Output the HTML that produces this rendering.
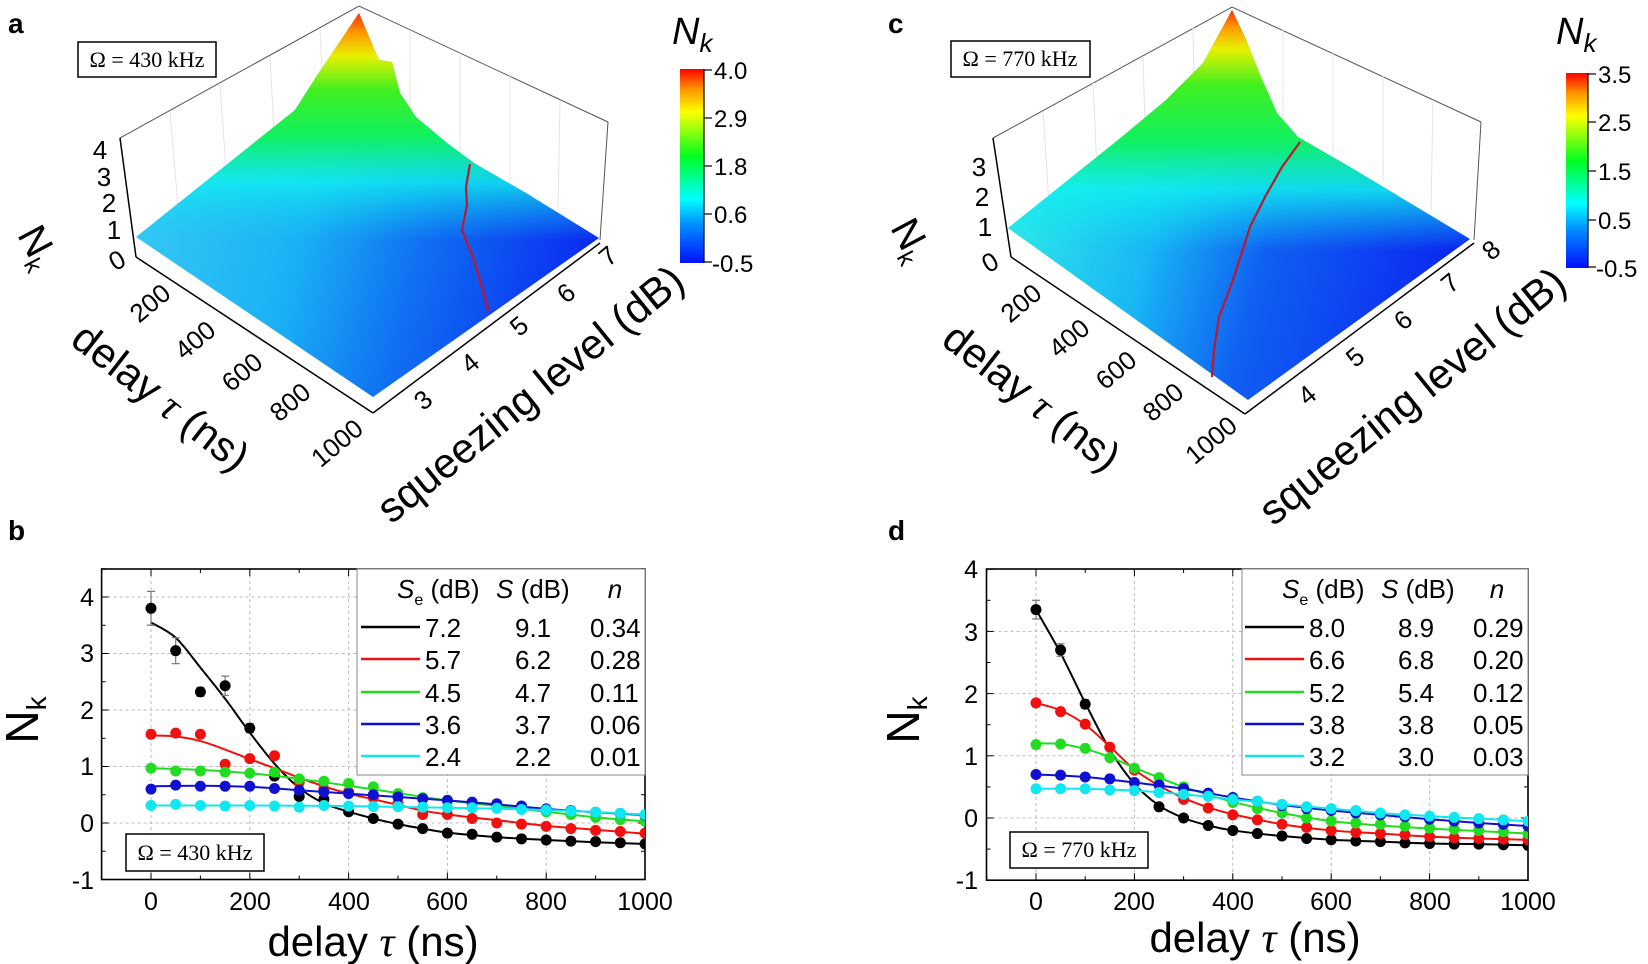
<!DOCTYPE html>
<html><head><meta charset="utf-8"><style>
html,body{margin:0;padding:0;background:#fff;}
svg{display:block;font-family:"Liberation Sans",Arial,sans-serif;}
.ser{font-family:"Liberation Serif","Times New Roman",serif;}
</style></head><body>
<svg id="s" width="1648" height="964" viewBox="0 0 1648 964" xmlns="http://www.w3.org/2000/svg">
<defs>
<linearGradient id="cb" x1="0" y1="1" x2="0" y2="0">
<stop offset="0" stop-color="#0010ff"/><stop offset="0.2" stop-color="#0090ff"/><stop offset="0.33" stop-color="#00ffff"/><stop offset="0.55" stop-color="#00ff20"/><stop offset="0.78" stop-color="#ffff00"/><stop offset="0.9" stop-color="#ff9000"/><stop offset="1" stop-color="#ff0000"/>
</linearGradient>
<linearGradient id="baseA" gradientUnits="userSpaceOnUse" x1="150" y1="180" x2="600" y2="300">
<stop offset="0" stop-color="#35c8f5"/><stop offset="0.35" stop-color="#1ab0f5"/><stop offset="0.6" stop-color="#1070f2"/><stop offset="1" stop-color="#0a22f0"/>
</linearGradient>
<linearGradient id="topA" gradientUnits="userSpaceOnUse" x1="0" y1="10" x2="0" y2="240">
<stop offset="0" stop-color="#ff2000"/><stop offset="0.1" stop-color="#ff9a00"/><stop offset="0.2" stop-color="#e8f000"/><stop offset="0.35" stop-color="#40f020"/><stop offset="0.55" stop-color="#10f060"/><stop offset="0.75" stop-color="#10f0f0" stop-opacity="0.8"/><stop offset="1" stop-color="#10d0f0" stop-opacity="0"/>
</linearGradient>
<linearGradient id="baseC" gradientUnits="userSpaceOnUse" x1="1020" y1="180" x2="1470" y2="300">
<stop offset="0" stop-color="#30e8e8"/><stop offset="0.3" stop-color="#18b8f5"/><stop offset="0.55" stop-color="#1060f2"/><stop offset="1" stop-color="#0a20f0"/>
</linearGradient>
<linearGradient id="topC" gradientUnits="userSpaceOnUse" x1="0" y1="8" x2="0" y2="250">
<stop offset="0" stop-color="#ff2000"/><stop offset="0.08" stop-color="#ff9a00"/><stop offset="0.17" stop-color="#e8f000"/><stop offset="0.32" stop-color="#40f020"/><stop offset="0.55" stop-color="#10f060"/><stop offset="0.75" stop-color="#10f0f0" stop-opacity="0.85"/><stop offset="1" stop-color="#10e0f0" stop-opacity="0"/>
</linearGradient>
<clipPath id="cbx"><rect x="101.6" y="569" width="543.4" height="311"/></clipPath>
<clipPath id="cdx"><rect x="986.5" y="569" width="541.5" height="311"/></clipPath>
</defs>

<!-- ===== Panel a ===== -->
<text x="8" y="33" font-size="28" font-weight="bold">a</text>
<g stroke="#555" stroke-width="1" fill="none">
<polyline points="120,138 359,6 608,122"/>
<line x1="608" y1="122" x2="600" y2="240"/>
</g>
<g stroke="#e4e4e4" stroke-width="1" fill="none">
<line x1="170" y1="111" x2="180" y2="230"/><line x1="220" y1="83" x2="228" y2="200"/><line x1="270" y1="56" x2="276" y2="170"/><line x1="320" y1="28" x2="325" y2="140"/>
<line x1="410" y1="30" x2="410" y2="140"/><line x1="460" y1="53" x2="460" y2="160"/><line x1="510" y1="76" x2="510" y2="180"/><line x1="560" y1="100" x2="558" y2="210"/>
</g>
<polygon fill="url(#baseA)" points="136,237 295,110 316,77 359,13 379,60 392,62 400,93 416,117 447,143 474,163 526,193 599,238 373,397"/>
<polygon fill="url(#topA)" points="136,237 295,110 316,77 359,13 379,60 392,62 400,93 416,117 447,143 474,163 526,193 599,238 373,397"/>
<polyline fill="none" stroke="#c0182a" stroke-width="2.2" points="470,164 466,187 467,205 462,230 474,260 489,312"/>
<g stroke="#000" stroke-width="1.5" fill="none">
<line x1="120" y1="138" x2="136" y2="257"/>
<line x1="136" y1="257" x2="373" y2="413"/>
<line x1="373" y1="413" x2="600" y2="243"/>
</g>
<g font-size="26" text-anchor="middle">
<text x="100" y="159">4</text><text x="104" y="186">3</text><text x="109" y="212">2</text><text x="114" y="239">1</text><text x="118" y="269" transform="rotate(-30 118 262)">0</text>
<text transform="translate(150,303) rotate(-40)" dy="9">200</text>
<text transform="translate(195,340) rotate(-40)" dy="9">400</text>
<text transform="translate(242,372) rotate(-40)" dy="9">600</text>
<text transform="translate(290,402) rotate(-40)" dy="9">800</text>
<text transform="translate(337,443) rotate(-40)" dy="9">1000</text>
<text transform="translate(423,400) rotate(-40)" dy="9">3</text>
<text transform="translate(470,363) rotate(-40)" dy="9">4</text>
<text transform="translate(519,326) rotate(-40)" dy="9">5</text>
<text transform="translate(566,293) rotate(-40)" dy="9">6</text>
<text transform="translate(608,256) rotate(-40)" dy="9">7</text>
</g>
<text transform="translate(160,398) rotate(38)" font-size="42" text-anchor="middle" dy="13">delay <tspan class="ser" font-style="italic">τ</tspan> (ns)</text>
<text transform="translate(531,395) rotate(-39)" font-size="42" text-anchor="middle" dy="13">squeezing level (dB)</text>
<text transform="translate(37,247) rotate(62)" font-size="40" text-anchor="middle" dy="12">N<tspan font-size="24" dy="8">k</tspan></text>
<rect x="78" y="42" width="138" height="35" fill="#fff" stroke="#000" stroke-width="1.5"/>
<text class="ser" x="147" y="67" font-size="22" text-anchor="middle">Ω = 430 kHz</text>
<rect x="680" y="69" width="24" height="194" fill="url(#cb)"/>
<g stroke="#000" stroke-width="1.2"><line x1="704" y1="70" x2="712" y2="70"/><line x1="704" y1="118" x2="712" y2="118"/><line x1="704" y1="166" x2="712" y2="166"/><line x1="704" y1="214" x2="712" y2="214"/><line x1="704" y1="262" x2="712" y2="262"/><line x1="704" y1="69" x2="704" y2="263"/></g>
<g font-size="24"><text x="714" y="79">4.0</text><text x="714" y="127">2.9</text><text x="714" y="175">1.8</text><text x="714" y="223">0.6</text><text x="712" y="272">-0.5</text></g>
<text x="672" y="44" font-size="38" font-style="italic">N<tspan font-size="26" dy="8">k</tspan></text>

<!-- ===== Panel c ===== -->
<text x="888" y="33" font-size="28" font-weight="bold">c</text>
<g stroke="#555" stroke-width="1" fill="none">
<polyline points="993,138 1232,7 1481,122"/>
<line x1="1481" y1="122" x2="1474" y2="240"/>
</g>
<g stroke="#e4e4e4" stroke-width="1" fill="none">
<line x1="1043" y1="111" x2="1050" y2="220"/><line x1="1093" y1="83" x2="1098" y2="190"/><line x1="1143" y1="56" x2="1146" y2="160"/><line x1="1193" y1="28" x2="1195" y2="130"/>
<line x1="1283" y1="30" x2="1283" y2="140"/><line x1="1333" y1="53" x2="1333" y2="160"/><line x1="1383" y1="76" x2="1383" y2="180"/><line x1="1433" y1="100" x2="1431" y2="210"/>
</g>
<polygon fill="url(#baseC)" points="1008,228 1118,140 1166,100 1203,63 1232,10 1245,37 1261,77 1277,113 1298,137 1350,167 1470,239 1248,400"/>
<polygon fill="url(#topC)" points="1008,228 1118,140 1166,100 1203,63 1232,10 1245,37 1261,77 1277,113 1298,137 1350,167 1470,239 1248,400"/>
<polyline fill="none" stroke="#c0182a" stroke-width="2.2" points="1300,142 1282,167 1265,197 1250,227 1233,280 1219,317 1214,350 1212,377"/>
<g stroke="#000" stroke-width="1.5" fill="none">
<line x1="993" y1="138" x2="1011" y2="257"/>
<line x1="1011" y1="257" x2="1245" y2="414"/>
<line x1="1245" y1="414" x2="1474" y2="243"/>
</g>
<g font-size="26" text-anchor="middle">
<text x="979" y="176">3</text><text x="982" y="206">2</text><text x="985" y="236">1</text><text x="991" y="271" transform="rotate(-30 991 264)">0</text>
<text transform="translate(1021,303) rotate(-40)" dy="9">200</text>
<text transform="translate(1069,338) rotate(-40)" dy="9">400</text>
<text transform="translate(1116,370) rotate(-40)" dy="9">600</text>
<text transform="translate(1163,402) rotate(-40)" dy="9">800</text>
<text transform="translate(1211,440) rotate(-40)" dy="9">1000</text>
<text transform="translate(1307,395) rotate(-40)" dy="9">4</text>
<text transform="translate(1355,357) rotate(-40)" dy="9">5</text>
<text transform="translate(1403,320) rotate(-40)" dy="9">6</text>
<text transform="translate(1450,283) rotate(-40)" dy="9">7</text>
<text transform="translate(1491,250) rotate(-40)" dy="9">8</text>
</g>
<text transform="translate(1031,398) rotate(38)" font-size="42" text-anchor="middle" dy="13">delay <tspan class="ser" font-style="italic">τ</tspan> (ns)</text>
<text transform="translate(1413,397) rotate(-39)" font-size="42" text-anchor="middle" dy="13">squeezing level (dB)</text>
<text transform="translate(910,240) rotate(62)" font-size="40" text-anchor="middle" dy="12">N<tspan font-size="24" dy="8">k</tspan></text>
<rect x="951" y="41" width="139" height="36" fill="#fff" stroke="#000" stroke-width="1.5"/>
<text class="ser" x="1020" y="66" font-size="22" text-anchor="middle">Ω = 770 kHz</text>
<rect x="1566" y="73" width="22" height="195" fill="url(#cb)"/>
<g stroke="#000" stroke-width="1.2"><line x1="1588" y1="74" x2="1596" y2="74"/><line x1="1588" y1="122" x2="1596" y2="122"/><line x1="1588" y1="171" x2="1596" y2="171"/><line x1="1588" y1="220" x2="1596" y2="220"/><line x1="1588" y1="267" x2="1596" y2="267"/><line x1="1588" y1="73" x2="1588" y2="268"/></g>
<g font-size="24"><text x="1598" y="83">3.5</text><text x="1598" y="131">2.5</text><text x="1598" y="180">1.5</text><text x="1598" y="229">0.5</text><text x="1596" y="277">-0.5</text></g>
<text x="1556" y="44" font-size="38" font-style="italic">N<tspan font-size="26" dy="8">k</tspan></text>

<!-- ===== Panel b ===== -->
<text x="8" y="540" font-size="28" font-weight="bold">b</text>
<g id="gb"></g>
<g font-size="25" text-anchor="end">
<text x="94" y="606">4</text><text x="94" y="662">3</text><text x="94" y="719">2</text><text x="94" y="775">1</text><text x="94" y="832">0</text><text x="94" y="889">-1</text>
</g>
<g font-size="25" text-anchor="middle">
<text x="151" y="910">0</text><text x="250" y="910">200</text><text x="349" y="910">400</text><text x="447" y="910">600</text><text x="546" y="910">800</text><text x="645" y="910">1000</text>
</g>
<text x="373" y="956" font-size="42" text-anchor="middle">delay <tspan class="ser" font-style="italic">τ</tspan> (ns)</text>
<text transform="translate(24,720) rotate(-90)" font-size="46" text-anchor="middle" dy="14">N<tspan font-size="28" dy="8">k</tspan></text>
<rect x="357" y="569" width="288" height="206" fill="#fff" stroke="#888" stroke-width="1"/>
<g font-size="26">
<text x="397" y="598"><tspan font-style="italic">S</tspan><tspan font-size="16" dy="7">e</tspan><tspan dy="-7"> (dB)</tspan></text>
<text x="496" y="598"><tspan font-style="italic">S</tspan> (dB)</text>
<text x="615" y="598" font-style="italic" text-anchor="middle">n</text>
<text x="425" y="637">7.2</text><text x="515" y="637">9.1</text><text x="590" y="637">0.34</text>
<text x="425" y="669">5.7</text><text x="515" y="669">6.2</text><text x="590" y="669">0.28</text>
<text x="425" y="702">4.5</text><text x="515" y="702">4.7</text><text x="590" y="702">0.11</text>
<text x="425" y="734">3.6</text><text x="515" y="734">3.7</text><text x="590" y="734">0.06</text>
<text x="425" y="766">2.4</text><text x="515" y="766">2.2</text><text x="590" y="766">0.01</text>
</g>
<g stroke-width="2.5"><line x1="361" y1="627" x2="420" y2="627" stroke="#000"/><line x1="361" y1="659" x2="420" y2="659" stroke="#f01010"/><line x1="361" y1="692" x2="420" y2="692" stroke="#20dd20"/><line x1="361" y1="724" x2="420" y2="724" stroke="#1010d0"/><line x1="361" y1="756" x2="420" y2="756" stroke="#10e8f0"/></g>
<rect x="126" y="834" width="138" height="37" fill="#fff" stroke="#000" stroke-width="1.5"/>
<text class="ser" x="195" y="860" font-size="22" text-anchor="middle">Ω = 430 kHz</text>

<!-- ===== Panel d ===== -->
<text x="888" y="540" font-size="28" font-weight="bold">d</text>
<g id="gd"></g>
<g font-size="25" text-anchor="end">
<text x="978" y="578">4</text><text x="978" y="641">3</text><text x="978" y="703">2</text><text x="978" y="765">1</text><text x="978" y="827">0</text><text x="978" y="889">-1</text>
</g>
<g font-size="25" text-anchor="middle">
<text x="1036" y="910">0</text><text x="1134" y="910">200</text><text x="1233" y="910">400</text><text x="1331" y="910">600</text><text x="1430" y="910">800</text><text x="1528" y="910">1000</text>
</g>
<text x="1255" y="952" font-size="42" text-anchor="middle">delay <tspan class="ser" font-style="italic">τ</tspan> (ns)</text>
<text transform="translate(905,720) rotate(-90)" font-size="46" text-anchor="middle" dy="14">N<tspan font-size="28" dy="8">k</tspan></text>
<rect x="1242" y="569" width="286" height="206" fill="#fff" stroke="#888" stroke-width="1"/>
<g font-size="26">
<text x="1282" y="598"><tspan font-style="italic">S</tspan><tspan font-size="16" dy="7">e</tspan><tspan dy="-7"> (dB)</tspan></text>
<text x="1381" y="598"><tspan font-style="italic">S</tspan> (dB)</text>
<text x="1497" y="598" font-style="italic" text-anchor="middle">n</text>
<text x="1309" y="637">8.0</text><text x="1398" y="637">8.9</text><text x="1473" y="637">0.29</text>
<text x="1309" y="669">6.6</text><text x="1398" y="669">6.8</text><text x="1473" y="669">0.20</text>
<text x="1309" y="702">5.2</text><text x="1398" y="702">5.4</text><text x="1473" y="702">0.12</text>
<text x="1309" y="734">3.8</text><text x="1398" y="734">3.8</text><text x="1473" y="734">0.05</text>
<text x="1309" y="766">3.2</text><text x="1398" y="766">3.0</text><text x="1473" y="766">0.03</text>
</g>
<g stroke-width="2.5"><line x1="1245" y1="627" x2="1304" y2="627" stroke="#000"/><line x1="1245" y1="659" x2="1304" y2="659" stroke="#f01010"/><line x1="1245" y1="692" x2="1304" y2="692" stroke="#20dd20"/><line x1="1245" y1="724" x2="1304" y2="724" stroke="#1010d0"/><line x1="1245" y1="756" x2="1304" y2="756" stroke="#10e8f0"/></g>
<rect x="1010" y="832" width="138" height="36" fill="#fff" stroke="#000" stroke-width="1.5"/>
<text class="ser" x="1079" y="857" font-size="22" text-anchor="middle">Ω = 770 kHz</text>
</svg>
<script>
(function(){
var NS="http://www.w3.org/2000/svg";
function el(p,t,a){var e=document.createElementNS(NS,t);for(var k in a)e.setAttribute(k,a[k]);p.appendChild(e);return e;}
var cols=["#000","#f01010","#20dd20","#1010d0","#10e8f0"];
function smooth(pts){var d="M"+pts[0][0]+","+pts[0][1];for(var i=0;i<pts.length-1;i++){var p0=pts[i-1]||pts[i],p1=pts[i],p2=pts[i+1],p3=pts[i+2]||p2;var c1x=p1[0]+(p2[0]-p0[0])/6,c1y=p1[1]+(p2[1]-p0[1])/6,c2x=p2[0]-(p3[0]-p1[0])/6,c2y=p2[1]-(p3[1]-p1[1])/6;d+=" C"+c1x+","+c1y+" "+c2x+","+c2y+" "+p2[0]+","+p2[1];}return d;}
function plot(g,o){
 var X=function(t){return o.x0+t*o.sx;},Y=function(v){return o.y0-v*o.sy;};
 var L=o.left,R=X(1000),T=o.top,B=Y(-1);
 for(var t=0;t<=1000;t+=200)el(g,"line",{x1:X(t),y1:T,x2:X(t),y2:B,stroke:"#bbb","stroke-dasharray":"3,3","stroke-width":1});
 for(var v=0;v<=4;v++)el(g,"line",{x1:L,y1:Y(v),x2:R,y2:Y(v),stroke:"#bbb","stroke-dasharray":"3,3","stroke-width":1});
 for(var t=-100;t<=1000;t+=100){var len=(t%200==0)?7:4;el(g,"line",{x1:X(t),y1:B,x2:X(t),y2:B-len,stroke:"#000"});el(g,"line",{x1:X(t),y1:T,x2:X(t),y2:T+len,stroke:"#000"});}
 for(var v=-1;v<=4.5;v+=0.5){var len=(v%1==0)?7:4;if(Y(v)<T-1)continue;el(g,"line",{x1:L,y1:Y(v),x2:L+len,y2:Y(v),stroke:"#000"});el(g,"line",{x1:R,y1:Y(v),x2:R-len,y2:Y(v),stroke:"#000"});}
 el(g,"rect",{x:L,y:T,width:R-L,height:B-T,fill:"none",stroke:"#000","stroke-width":1.6});
 var sg=el(g,"g",{"clip-path":o.clip});
 for(var s=0;s<5;s++){
  var ln=o.lines[s].map(function(p){return [X(p[0]),Y(p[1])];});
  el(sg,"path",{d:smooth(ln),fill:"none",stroke:cols[s],"stroke-width":2});
  var pts=o.pts[s];
  for(var i=0;i<pts.length;i++){var t=i*50,v=pts[i];if(v===null)continue;
   if(s==0&&o.err[i]){var e=o.err[i];el(sg,"line",{x1:X(t),y1:Y(v+e),x2:X(t),y2:Y(v-e),stroke:"#777","stroke-width":1.2});el(sg,"line",{x1:X(t)-4,y1:Y(v+e),x2:X(t)+4,y2:Y(v+e),stroke:"#777","stroke-width":1.2});el(sg,"line",{x1:X(t)-4,y1:Y(v-e),x2:X(t)+4,y2:Y(v-e),stroke:"#777","stroke-width":1.2});}
   el(sg,"circle",{cx:X(t),cy:Y(v),r:5.5,fill:cols[s]});}
 }
}
plot(document.getElementById("gb"),{x0:151,sx:0.494,y0:823,sy:56.5,left:101.6,top:569,clip:"url(#cbx)",
 err:{0:0.3,1:0.23,2:0.08,3:0.17,4:0.08},
 pts:[[3.8,3.05,2.32,2.43,1.68,0.83,0.47,0.42,0.2,0.08,-0.02,-0.1,-0.18,-0.2,-0.25,-0.28,-0.3,-0.32,-0.33,-0.35,-0.37],
 [1.57,1.59,1.57,1.04,1.14,1.19,0.72,0.6,0.55,0.45,0.35,0.15,0.15,0.08,0.0,-0.02,-0.06,-0.1,-0.13,-0.15,-0.18],
 [0.97,0.92,0.92,0.9,0.88,0.9,0.78,0.74,0.7,0.64,0.52,0.45,0.4,0.35,0.3,0.25,0.2,0.15,0.1,0.06,0.03],
 [0.6,0.67,0.65,0.65,0.65,0.61,0.58,0.55,0.52,0.5,0.46,0.43,0.4,0.37,0.34,0.3,0.25,0.22,0.19,0.17,0.14],
 [0.31,0.33,0.31,0.3,0.31,0.3,0.28,0.31,0.3,0.29,0.29,0.28,0.27,0.27,0.26,0.24,0.23,0.21,0.19,0.17,0.15]],
 lines:[[[0,3.55],[50,3.28],[100,2.75],[150,2.2],[200,1.6],[250,1.05],[300,0.62],[350,0.35],[400,0.2],[450,0.08],[500,-0.02],[550,-0.1],[600,-0.17],[700,-0.25],[800,-0.3],[900,-0.34],[1000,-0.37]],
 [[0,1.55],[50,1.53],[100,1.45],[150,1.3],[200,1.13],[250,0.97],[300,0.8],[350,0.65],[400,0.52],[450,0.42],[500,0.32],[550,0.22],[600,0.15],[700,0.05],[800,-0.05],[900,-0.12],[1000,-0.19]],
 [[0,0.97],[100,0.94],[200,0.88],[300,0.78],[400,0.66],[500,0.53],[600,0.4],[700,0.3],[800,0.2],[900,0.1],[1000,0.03]],
 [[0,0.65],[100,0.66],[200,0.64],[300,0.58],[400,0.52],[500,0.46],[600,0.4],[700,0.33],[800,0.25],[900,0.19],[1000,0.14]],
 [[0,0.31],[200,0.31],[400,0.3],[600,0.27],[800,0.23],[1000,0.15]]]});
plot(document.getElementById("gd"),{x0:1036,sx:0.492,y0:818,sy:62.2,left:986.5,top:569,clip:"url(#cdx)",
 err:{0:0.15,1:0.1,2:0.07},
 pts:[[3.35,2.7,1.83,null,null,0.18,0.0,-0.12,-0.2,-0.25,-0.29,-0.33,-0.35,-0.37,-0.38,-0.4,-0.41,-0.42,-0.42,-0.43,-0.44],
 [1.85,1.71,1.51,1.14,0.77,0.53,0.3,0.16,0.05,-0.03,-0.1,-0.15,-0.2,-0.23,-0.25,-0.27,-0.3,-0.32,-0.33,-0.34,-0.35],
 [1.18,1.19,1.12,0.97,0.8,0.65,0.5,0.35,0.25,0.15,0.08,0.0,-0.05,-0.08,-0.1,-0.13,-0.16,-0.18,-0.2,-0.22,-0.25],
 [0.7,0.69,0.66,0.63,0.57,0.53,0.47,0.4,0.33,0.27,0.2,0.15,0.12,0.08,0.05,0.02,-0.02,-0.05,-0.08,-0.1,-0.13],
 [0.47,0.47,0.47,0.45,0.44,0.41,0.38,0.35,0.3,0.27,0.22,0.18,0.15,0.12,0.08,0.05,0.03,0.01,-0.01,-0.03,-0.05]],
 lines:[[[0,3.35],[50,2.65],[100,1.85],[150,1.1],[200,0.55],[250,0.2],[300,0.0],[350,-0.12],[400,-0.2],[500,-0.29],[600,-0.35],[700,-0.38],[800,-0.41],[900,-0.42],[1000,-0.44]],
 [[0,1.85],[50,1.73],[100,1.5],[150,1.15],[200,0.78],[250,0.52],[300,0.32],[350,0.17],[400,0.06],[500,-0.1],[600,-0.2],[700,-0.25],[800,-0.3],[900,-0.33],[1000,-0.35]],
 [[0,1.2],[50,1.19],[100,1.11],[150,0.98],[200,0.81],[250,0.65],[300,0.5],[400,0.26],[500,0.08],[600,-0.05],[700,-0.12],[800,-0.17],[900,-0.21],[1000,-0.25]],
 [[0,0.7],[100,0.66],[200,0.57],[300,0.47],[400,0.33],[500,0.21],[600,0.12],[700,0.05],[800,-0.02],[900,-0.08],[1000,-0.13]],
 [[0,0.47],[100,0.47],[200,0.44],[300,0.38],[400,0.3],[500,0.22],[600,0.15],[700,0.08],[800,0.03],[900,-0.01],[1000,-0.05]]]});
})();
</script>
</body></html>
